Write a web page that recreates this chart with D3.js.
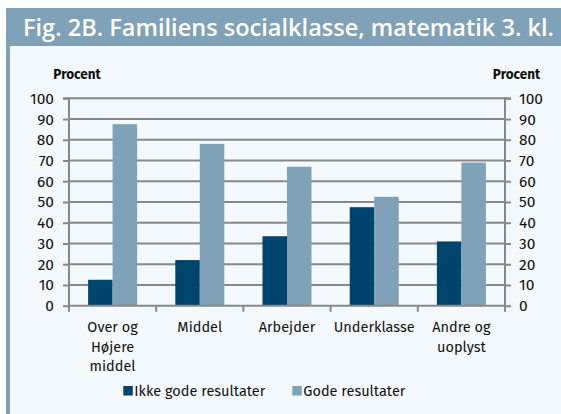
<!DOCTYPE html>
<html><head><meta charset="utf-8">
<script src="https://cdn.jsdelivr.net/npm/d3@7"></script>
<style>body{margin:0;background:#fff}svg{display:block}</style>
</head><body>
<svg id="c" width="561" height="414"></svg>
<script>
const categories = [["Over og","Højere","middel"],["Middel"],["Arbejder"],["Underklasse"],["Andre og","uoplyst"]];
const categoryKeys = ["Over og Højere middel","Middel","Arbejder","Underklasse","Andre og uoplyst"];
const seriesNames = ["Ikke gode resultater","Gode resultater"];
const ikkeGode = [12.5, 22, 33.5, 47.5, 31];
const gode = [87.5, 78, 67, 52.5, 69];
const yTicks = [0,10,20,30,40,50,60,70,80,90,100];
const colors = ["#00456d","#7fa2b8"];

(function(){
const svg = d3.select("#c");
const font = "'Fira Sans','Open Sans','Noto Sans',sans-serif";
// frame
svg.append("rect").attr("x",6).attr("y",8).attr("width",555).attr("height",406).attr("fill","#f4f9fd");
svg.append("rect").attr("x",6).attr("y",8).attr("width",4).attr("height",406).attr("fill","#7fa2b8");
svg.append("rect").attr("x",6).attr("y",8).attr("width",555).attr("height",38).attr("fill","#7fa2b8");
svg.append("text").attr("x",23).attr("y",36).attr("fill","#fff")
  .attr("font-family","'Open Sans',sans-serif").attr("font-weight",600).attr("font-size",23)
  .attr("textLength",531).attr("lengthAdjust","spacingAndGlyphs")
  .text("Fig. 2B. Familiens socialklasse, matematik 3. kl.");

const pLeft=69, pRight=505, pTop=98.3, pBottom=305.7;
const x = d3.scaleBand().domain(categoryKeys).range([pLeft,pRight]);
const y = d3.scaleLinear().domain([0,100]).range([pBottom,pTop]);
const barW = 24.5;

// gridlines
svg.append("g").selectAll("line").data(yTicks.filter(d=>d>0)).join("line")
  .attr("x1",pLeft).attr("x2",pRight).attr("y1",d=>y(d)).attr("y2",d=>y(d))
  .attr("stroke","#888").attr("stroke-width",2);

// bars
const data = categoryKeys.map((k,i)=>({k, vals:[ikkeGode[i], gode[i]]}));
const g = svg.append("g");
data.forEach(d=>{
  d.vals.forEach((v,j)=>{
    const cx = x(d.k)+x.bandwidth()/2;
    g.append("rect").attr("x",cx - barW + j*barW).attr("width",barW)
      .attr("y",y(v)).attr("height",pBottom-y(v)).attr("fill",colors[j]);
  });
});

// axes
const axL = d3.axisLeft(y).tickValues(yTicks).tickSize(6).tickPadding(9);
const axR = d3.axisRight(y).tickValues(yTicks).tickSize(6).tickPadding(8);
function style(gg){
  gg.select(".domain").attr("stroke","#888").attr("stroke-width",2);
  gg.selectAll(".tick line").attr("stroke","#888").attr("stroke-width",2);
  gg.selectAll(".tick text").attr("font-family",font).attr("font-size",15.5).attr("fill","#111");
}
svg.append("g").attr("transform",`translate(${pLeft},0)`).call(axL).call(style).select(".domain").attr("d",`M-6,${pTop}H0V${pBottom}`);
svg.append("g").attr("transform",`translate(${pRight},0)`).call(axR).call(style).select(".domain").attr("d",`M6,${pTop}H0V${pBottom}`);

// x axis
const xa = svg.append("g");
xa.append("line").attr("x1",pLeft-1).attr("x2",pRight+1).attr("y1",pBottom).attr("y2",pBottom).attr("stroke","#888").attr("stroke-width",2);
const bounds = [pLeft, ...categoryKeys.map(k=>x(k)+x.bandwidth())];
xa.selectAll("line.t").data(bounds).join("line").attr("class","t")
  .attr("x1",d=>d).attr("x2",d=>d).attr("y1",pBottom).attr("y2",pBottom+6).attr("stroke","#888").attr("stroke-width",2);
categoryKeys.forEach((k,i)=>{
  const cx = x(k)+x.bandwidth()/2;
  const t = xa.append("text").attr("x",cx).attr("y",332)
    .attr("text-anchor","middle").attr("font-family",font).attr("font-size",14.5).attr("fill","#111");
  categories[i].forEach((line,li)=>t.append("tspan").attr("x",cx).attr("dy",li?19.7:0).text(line));
});

// y titles
svg.append("text").attr("x",77).attr("y",79).attr("text-anchor","middle").attr("font-family",font)
  .attr("font-weight","bold").attr("font-size",13.5).attr("fill","#111").text("Procent");
svg.append("text").attr("x",516.5).attr("y",79).attr("text-anchor","middle").attr("font-family",font)
  .attr("font-weight","bold").attr("font-size",13.5).attr("fill","#111").text("Procent");

// legend
const legX = [123.3, 292.3];
seriesNames.forEach((n,i)=>{
  svg.append("rect").attr("x",legX[i]).attr("y",386).attr("width",9.5).attr("height",9.5).attr("fill",colors[i]);
  svg.append("text").attr("x",legX[i]+11).attr("y",396).attr("font-family",font).attr("font-size",14.5).attr("fill","#111").text(n);
});
})();
</script>
</body></html>
